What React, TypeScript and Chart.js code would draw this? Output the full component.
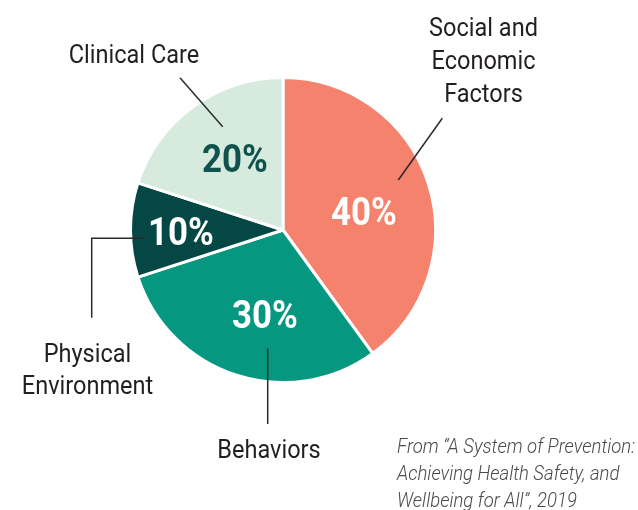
import React, { useEffect, useRef } from "react";
import { Chart, ArcElement, PieController } from "chart.js";

Chart.register(ArcElement, PieController);

const categories = ["Social and Economic Factors", "Behaviors", "Physical Environment", "Clinical Care"];
const labelLines = [["Social and", "Economic", "Factors"], ["Behaviors"], ["Physical", "Environment"], ["Clinical Care"]];
const values = [40, 30, 10, 20];
const sliceColors = ["#F4826C", "#05977F", "#044745", "#D6EADD"];
const pctColors = ["#FFFFFF", "#FFFFFF", "#FFFFFF", "#10524D"];
const sourceLines = ["From \u201CA System of Prevention:", "Achieving Health Safety, and", "Wellbeing for All\u201D, 2019"];

// style / placement (offsets relative to the pie centre)
const pctPos = [[81, -5], [-18, 98], [-102, 15], [-48, -58]];
const catPos = [[200.5, -194, 33], [-14, 228, 33], [-195.5, 131.7, 32.5], [-149, -167.3, 33]];
const leaders = [
  [[159.3, -111.7], [115.3, -50]],
  [[-15.3, 118.3], [-15.3, 194]],
  [[-138, 8.3], [-191.3, 8.3], [-191.3, 87.7]],
  [[-103, -152.3], [-60.3, -103.3]],
];

function drawText(ctx: CanvasRenderingContext2D, text: string, x: number, y: number, font: string, color: string, align: CanvasTextAlign, sx: number) {
  ctx.save();
  ctx.translate(x, y);
  ctx.scale(sx, 1);
  ctx.font = font;
  ctx.fillStyle = color;
  ctx.textAlign = align;
  ctx.textBaseline = "alphabetic";
  ctx.fillText(text, 0, 0);
  ctx.restore();
}

const labelPlugin = {
  id: "customLabels",
  afterDraw(chart: any) {
    const ctx: CanvasRenderingContext2D = chart.ctx;
    const meta = chart.getDatasetMeta(0);
    meta.data.forEach((arc: any, i: number) => {
      const cx = arc.x;
      const cy = arc.y;
      ctx.save();
      ctx.strokeStyle = "#2a2a2a";
      ctx.lineWidth = 1.5;
      ctx.beginPath();
      leaders[i].forEach((p, k) => {
        if (k === 0) ctx.moveTo(cx + p[0], cy + p[1]);
        else ctx.lineTo(cx + p[0], cy + p[1]);
      });
      ctx.stroke();
      ctx.restore();
      drawText(ctx, values[i] + "%", cx + pctPos[i][0], cy + pctPos[i][1], "bold 39px Roboto", pctColors[i], "center", 0.895);
      labelLines[i].forEach((line, k) => {
        drawText(ctx, line, cx + catPos[i][0], cy + catPos[i][1] + k * catPos[i][2], "400 26px Roboto", "#231F20", "center", 0.905);
      });
    });
    sourceLines.forEach((line, k) => {
      drawText(ctx, line, 397, 453.3 + k * 26.6, "italic 300 19.5px Roboto", "#4a4a4a", "left", 0.95);
    });
  },
};

export default function App() {
  const ref = useRef<HTMLCanvasElement>(null);
  useEffect(() => {
    if (!ref.current) return;
    const chart = new Chart(ref.current, {
      type: "pie",
      data: {
        labels: categories,
        datasets: [
          {
            data: values,
            backgroundColor: sliceColors,
            borderColor: "#FFFFFF",
            borderWidth: 3,
          },
        ],
      },
      options: {
        animation: false,
        responsive: false,
        maintainAspectRatio: false,
        layout: { padding: { left: 129, top: 76, right: 201, bottom: 126 } },
        plugins: { legend: { display: false }, tooltip: { enabled: false } },
      },
      plugins: [labelPlugin],
    });
    return () => chart.destroy();
  }, []);
  return (
    <div style={{ position: "fixed", left: 0, top: 0, width: 638, height: 510, background: "#fff" }}>
      <canvas ref={ref} width={638} height={510} style={{ width: 638, height: 510 }} />
    </div>
  );
}
